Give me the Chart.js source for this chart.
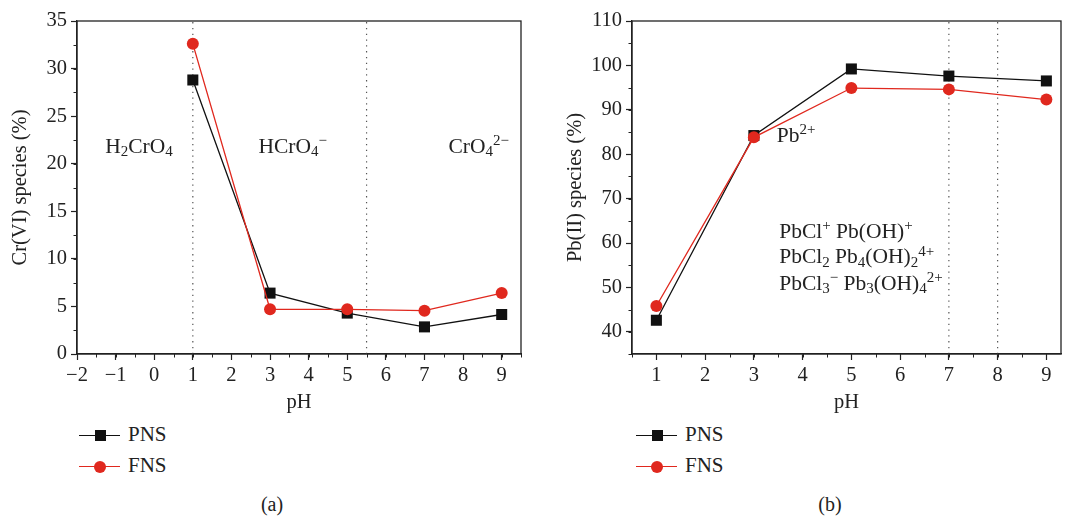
<html lang="en">
<head>
    <title>Cr(VI) and Pb(II) species vs pH</title>
    <style>
        body { margin: 0; background: #fff; font-family: "Liberation Serif", serif; color: #222; }
        #wrap { position: relative; width: 1085px; height: 518px; overflow: hidden; }
        canvas { position: absolute; top: 0; }
        .legend { position: absolute; font-size: 21px; }
        .row { position: relative; height: 31px; }
        .ln { position: absolute; top: 0; width: 41px; height: 1.3px; }
        .mk { position: absolute; }
        .lbl { position: absolute; left: 49px; top: -13px; white-space: nowrap; }
        .caption { position: absolute; top: 493px; font-size: 20px; transform: translateX(-50%); }
    </style>
</head>

<body>
<div id="wrap">
    <canvas id="crChart" width="540" height="420" style="left:0"></canvas>
    <canvas id="pbChart" width="545" height="420" style="left:540px"></canvas>
    <div class="legend" id="crLegend" style="left:79px; top:435px"></div>
    <div class="legend" id="pbLegend" style="left:636px; top:435px"></div>
    <div class="caption" style="left:272px">(a)</div>
    <div class="caption" style="left:830px">(b)</div>
</div>

<script src="https://cdn.jsdelivr.net/npm/chart.js"></script>
<script>
    // values
    const pH = [1, 3, 5, 7, 9];
    const crPNS = [28.8, 6.4, 4.3, 2.85, 4.15];
    const crFNS = [32.6, 4.7, 4.7, 4.55, 6.4];
    const pbPNS = [42.6, 84.2, 99.2, 97.6, 96.5];
    const pbFNS = [45.8, 83.8, 94.9, 94.6, 92.3];
    const seriesNames = ['PNS', 'FNS'];

    // dotted separators (pH values)
    const crDividers = [1, 5.5];
    const pbDividers = [7, 8];

    const BLACK = '#111';
    const RED = '#e0281e';
    const INK = '#222';

    // species labels, placed in data units; parts: [text, 'sub'|'sup'|undefined]
    const crLabels = [
        {x: -1.27, y: 21.7, parts: [['H'], ['2', 'sub'], ['CrO'], ['4', 'sub']]},
        {x: 2.70, y: 21.7, parts: [['HCrO'], ['4', 'sub'], ['\u2212', 'sup']]},
        {x: 7.62, y: 21.7, parts: [['CrO'], ['4', 'sub'], ['2\u2212', 'sup']]}
    ];
    const pbLabels = [
        {x: 3.47, y: 84.0, parts: [['Pb'], ['2+', 'sup']]},
        {x: 3.52, y: 62.4, parts: [['PbCl'], ['+', 'sup'], [' Pb(OH)'], ['+', 'sup']]},
        {x: 3.52, y: 56.7, parts: [['PbCl'], ['2', 'sub'], [' Pb'], ['4', 'sub'], ['(OH)'], ['2', 'sub'], ['4+', 'sup']]},
        {x: 3.52, y: 50.7, parts: [['PbCl'], ['3', 'sub'], ['\u2212', 'sup'], [' Pb'], ['3', 'sub'], ['(OH)'], ['4', 'sub'], ['2+', 'sup']]}
    ];

    const FONT = '"Liberation Serif", serif';

    function points(xs, ys) {
        return xs.map((x, i) => ({x: x, y: ys[i]}));
    }

    /**
     * Draws the closed frame, minor ticks and the species labels
     */
    const decorations = {
        id: 'decorations',
        afterDraw(chart, args, opts) {
            const ctx = chart.ctx;
            const a = chart.chartArea;
            const x = chart.scales.x, y = chart.scales.y;
            ctx.save();
            ctx.strokeStyle = INK;
            ctx.lineWidth = 1.3;
            ctx.strokeRect(a.left, a.top, a.right - a.left, a.bottom - a.top);

            // minor ticks
            ctx.lineWidth = 1;
            ctx.beginPath();
            for (let k = Math.ceil(x.min / opts.xMinor); k * opts.xMinor <= x.max + 1e-9; k++) {
                const px = Math.round(x.getPixelForValue(k * opts.xMinor)) + 0.5;
                ctx.moveTo(px, a.bottom);
                ctx.lineTo(px, a.bottom + 3.5);
            }
            for (let k = Math.ceil(y.min / opts.yMinor); k * opts.yMinor <= y.max + 1e-9; k++) {
                const py = Math.round(y.getPixelForValue(k * opts.yMinor)) + 0.5;
                ctx.moveTo(a.left, py);
                ctx.lineTo(a.left - 3.5, py);
            }
            ctx.stroke();

            // rich text labels
            ctx.fillStyle = INK;
            ctx.textBaseline = 'middle';
            ctx.textAlign = 'left';
            opts.labels.forEach(lab => {
                let px = x.getPixelForValue(lab.x);
                const py = y.getPixelForValue(lab.y);
                lab.parts.forEach(p => {
                    let dy = 0, size = 21.5;
                    if (p[1] === 'sub') { size = 15; dy = 5; }
                    if (p[1] === 'sup') { size = 15; dy = -6; }
                    ctx.font = size + 'px ' + FONT;
                    ctx.fillText(p[0], px, py + dy);
                    px += ctx.measureText(p[0]).width;
                });
            });
            ctx.restore();
        }
    };

    function dividerSets(values, yMin, yMax) {
        return values.map(v => ({
            data: [{x: v, y: yMin}, {x: v, y: yMax}],
            borderColor: '#555',
            borderWidth: 1.2,
            borderDash: [1.3, 4.5],
            pointRadius: 0,
            order: 3
        }));
    }

    function makeChart(id, cfg) {
        const tickFont = {family: FONT, size: 20.5};
        return new Chart(document.getElementById(id), {
            type: 'line',
            data: {
                datasets: [{
                    label: seriesNames[0],
                    data: points(pH, cfg.pns),
                    borderColor: BLACK,
                    backgroundColor: BLACK,
                    borderWidth: 1.3,
                    pointStyle: 'rect',
                    pointRadius: 7.8,
                    pointBorderWidth: 0,
                    order: 1
                }, {
                    label: seriesNames[1],
                    data: points(pH, cfg.fns),
                    borderColor: RED,
                    backgroundColor: RED,
                    borderWidth: 1.3,
                    pointStyle: 'circle',
                    pointRadius: 6,
                    pointBorderWidth: 0,
                    order: 0
                }].concat(dividerSets(cfg.dividers, cfg.yMin, cfg.yMax))
            },
            options: {
                responsive: false,
                animation: false,
                layout: {padding: {left: 0, right: cfg.padRight, top: 21, bottom: 0}},
                plugins: {
                    legend: {display: false},
                    tooltip: {enabled: false},
                    decorations: {xMinor: 0.5, yMinor: cfg.yMinor, labels: cfg.labels}
                },
                scales: {
                    x: {
                        type: 'linear',
                        min: cfg.xMin,
                        max: cfg.xMax,
                        afterFit(s) { s.height = 66; },
                        ticks: {
                            stepSize: 1,
                            includeBounds: false,
                            font: tickFont,
                            color: INK,
                            padding: 3,
                            maxRotation: 0,
                            callback: v => String(v).replace('-', '\u2212')
                        },
                        grid: {drawOnChartArea: false, tickLength: 6, color: INK, tickWidth: 1.2},
                        border: {color: INK, width: 1.3},
                        title: {display: true, text: 'pH', font: tickFont, color: INK, padding: {top: 0, bottom: 5}}
                    },
                    y: {
                        min: cfg.yMin,
                        max: cfg.yMax,
                        afterFit(s) { s.width = cfg.yWidth; },
                        ticks: {stepSize: cfg.yStep, includeBounds: false, font: tickFont, color: INK, padding: 4},
                        grid: {drawOnChartArea: false, tickLength: 6, color: INK, tickWidth: 1.2},
                        border: {color: INK, width: 1.3},
                        title: {display: true, text: cfg.yTitle, font: tickFont, color: INK, padding: {top: cfg.yTitlePad, bottom: 0}}
                    }
                }
            },
            plugins: [decorations]
        });
    }

    const crChart = makeChart('crChart', {
        pns: crPNS, fns: crFNS, dividers: crDividers, labels: crLabels,
        xMin: -2, xMax: 9.5, yMin: 0, yMax: 35, yStep: 5, yMinor: 2.5,
        yTitle: 'Cr(VI) species (%)', yWidth: 77, padRight: 19, yTitlePad: 8
    });

    const pbChart = makeChart('pbChart', {
        pns: pbPNS, fns: pbFNS, dividers: pbDividers, labels: pbLabels,
        xMin: 0.5, xMax: 9.3, yMin: 35, yMax: 110, yStep: 10, yMinor: 5,
        yTitle: 'Pb(II) species (%)', yWidth: 92, padRight: 24, yTitlePad: 23
    });

    /**
     * Builds an html legend: line - marker - line, then the series name
     */
    function buildLegend(id) {
        const el = document.getElementById(id);
        const styles = [
            {color: BLACK, w: 11, radius: '0'},
            {color: RED, w: 12, radius: '50%'}
        ];
        seriesNames.forEach((name, i) => {
            const st = styles[i];
            const row = document.createElement('div');
            row.className = 'row';
            row.innerHTML =
                '<span class="ln" style="left:0;background:' + st.color + '"></span>' +
                '<span class="mk" style="left:' + (21 - st.w / 2) + 'px;top:' + (-st.w / 2 + 0.6) + 'px;width:' + st.w +
                'px;height:' + st.w + 'px;border-radius:' + st.radius + ';background:' + st.color + '"></span>' +
                '<span class="lbl">' + name + '</span>';
            el.appendChild(row);
        });
    }
    buildLegend('crLegend');
    buildLegend('pbLegend');
</script>
</body>
</html>
